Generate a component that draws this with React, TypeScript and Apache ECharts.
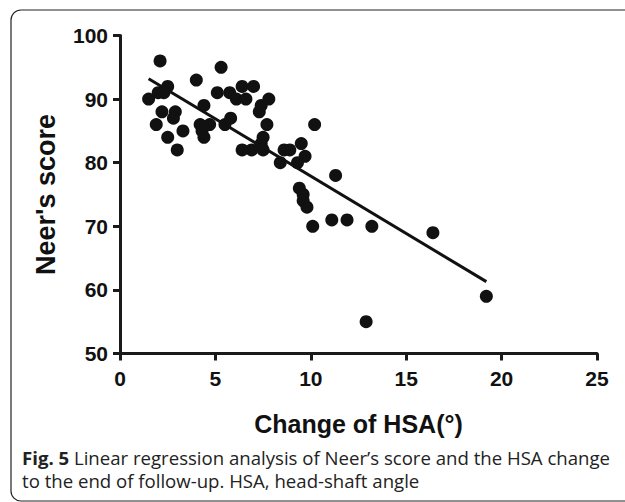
import React, { useEffect, useRef } from "react";
import * as echarts from "echarts";

const hsaChange = [
  1.5, 2.1, 2.0, 2.5, 2.3, 1.9, 2.2, 2.9, 2.8, 2.5, 3.3, 3.0, 4.0, 4.4, 4.2, 4.3,
  4.4, 4.7, 5.1, 5.3, 5.5, 5.8, 5.75, 6.4, 7.0, 6.1, 6.6, 7.8, 7.4, 7.3, 7.7, 7.5,
  7.4, 7.5, 6.9, 6.4, 8.6, 8.9, 9.5, 9.7, 9.3, 8.4, 10.2, 11.3, 9.4, 9.6, 9.6, 9.8,
  10.1, 11.1, 11.9, 13.2, 16.4, 19.2, 12.9,
];
const neerScore = [
  90, 96, 91, 92, 91, 86, 88, 88, 87, 84, 85, 82, 93, 89, 86, 85,
  84, 86, 91, 95, 86, 87, 91, 92, 92, 90, 90, 90, 89, 88, 86, 84,
  83, 82, 82, 82, 82, 82, 83, 81, 80, 80, 86, 78, 76, 75, 74, 73,
  70, 71, 71, 70, 69, 59, 55,
];
const fitX = [1.5, 19.2];
const fitY = [93.2, 61.3];
const xTicks = [0, 25, 5];
const yTicks = [50, 100, 10];

const captionBold = "Fig. 5";
const captionLine1 = " Linear regression analysis of Neer\u2019s score and the HSA change";
const captionLine2 = "to the end of follow-up. HSA, head-shaft angle";

const FONT = "'Liberation Sans', Arial, sans-serif";
const CAP_FONT = "'Open Sans', sans-serif";

export default function App() {
  const ref = useRef<HTMLDivElement>(null);
  useEffect(() => {
    if (!ref.current) return;
    const chart = echarts.init(ref.current, undefined, { renderer: "svg" });
    const points = hsaChange.map((x, i) => [x, neerScore[i]]);
    const fit = fitX.map((x, i) => [x, fitY[i]]);
    chart.setOption({
      animation: false,
      backgroundColor: "#ffffff",
      grid: {
        left: 120,
        right: 28,
        top: 35.5,
        bottom: 148.5,
        outerBoundsMode: "none",
      },
      xAxis: {
        type: "value",
        min: xTicks[0],
        max: xTicks[1],
        interval: xTicks[2],
        name: "Change of HSA(°)",
        nameLocation: "middle",
        nameGap: 58,
        nameTextStyle: { fontFamily: FONT, fontWeight: "bold", fontSize: 25, color: "#111" },
        axisLine: { onZero: false, lineStyle: { color: "#1a1a1a", width: 3 } },
        axisTick: { inside: false, length: 7, lineStyle: { color: "#1a1a1a", width: 3 } },
        axisLabel: { margin: 14, fontFamily: FONT, fontWeight: "bold", fontSize: 21, color: "#111" },
        splitLine: { show: false },
      },
      yAxis: {
        type: "value",
        min: yTicks[0],
        max: yTicks[1],
        interval: yTicks[2],
        name: "Neer's score",
        nameLocation: "middle",
        nameGap: 61,
        nameTextStyle: { fontFamily: FONT, fontWeight: "bold", fontSize: 27, color: "#111" },
        axisLine: { onZero: false, lineStyle: { color: "#1a1a1a", width: 3 } },
        axisTick: { inside: false, length: 7, lineStyle: { color: "#1a1a1a", width: 3 } },
        axisLabel: { margin: 12, fontFamily: FONT, fontWeight: "bold", fontSize: 21, color: "#111" },
        splitLine: { show: false },
      },
      graphic: [
        {
          type: "rect",
          silent: true,
          z: -10,
          shape: { x: 11, y: 10, width: 640, height: 491, r: 10 },
          style: { fill: "none", stroke: "#222", lineWidth: 1.2 },
        },
        {
          type: "text",
          left: 22,
          top: 448,
          style: {
            text: "{b|" + captionBold + "}{r|" + captionLine1 + "}",
            rich: {
              b: { fontFamily: CAP_FONT, fontWeight: "bold", fontSize: 18.6, fill: "#222" },
              r: { fontFamily: CAP_FONT, fontSize: 18.6, fill: "#222" },
            },
          },
        },
        {
          type: "text",
          left: 22,
          top: 471,
          style: {
            text: captionLine2,
            fontFamily: CAP_FONT,
            fontSize: 18.6,
            fill: "#222",
          },
        },
      ],
      series: [
        {
          type: "scatter",
          data: points,
          symbol: "circle",
          symbolSize: 13,
          itemStyle: { color: "#111111", opacity: 1 },
          z: 3,
        },
        {
          type: "line",
          data: fit,
          symbol: "none",
          lineStyle: { color: "#111111", width: 3 },
          z: 4,
        },
      ],
    });
    return () => chart.dispose();
  }, []);
  return (
    <div
      ref={ref}
      style={{ position: "fixed", left: 0, top: 0, width: 625, height: 502 }}
    />
  );
}
